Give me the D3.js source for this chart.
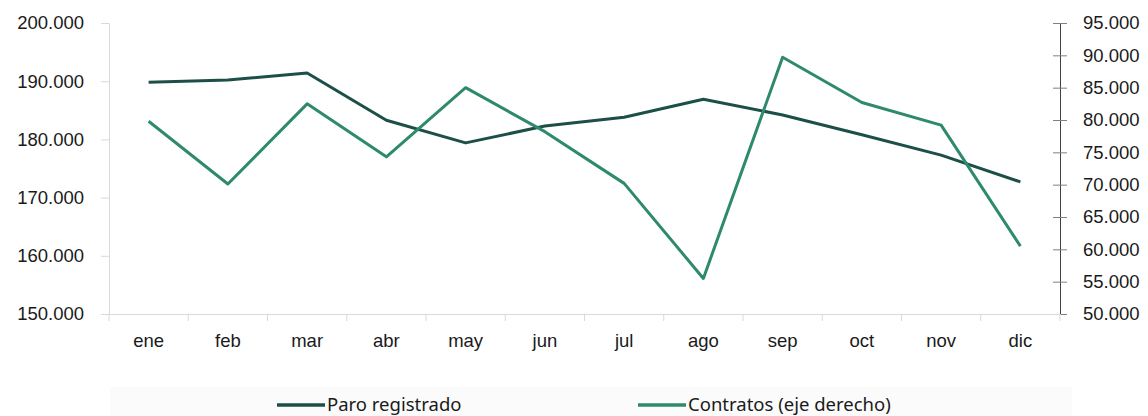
<!DOCTYPE html>
<html>
<head>
<meta charset="utf-8">
<script src="https://cdn.jsdelivr.net/npm/d3@7"></script>
<style>
  body { margin: 0; background: #fff; }
  svg { display: block; font-family: "Noto Sans", Lato, sans-serif; }
</style>
</head>
<body>
<div id="chart"></div>
<script>
// meses
const meses = ['ene', 'feb', 'mar', 'abr', 'may', 'jun', 'jul', 'ago', 'sep', 'oct', 'nov', 'dic'];
// Paro registrado (eje izquierdo)
const paro = [189800, 190200, 191400, 183300, 179400, 182300, 183800, 186900, 184200, 180800, 177300, 172700];
// Contratos (eje derecho)
const contratos = [79800, 70100, 82500, 74300, 85000, 78200, 70200, 55500, 89700, 82700, 79200, 60500];
const ticksIzq = [150000, 160000, 170000, 180000, 190000, 200000];
const ticksDer = [50000, 55000, 60000, 65000, 70000, 75000, 80000, 85000, 90000, 95000];

const width = 1148, height = 416;
const m = { left: 109, right: 1060, top: 23, bottom: 314 };
const colorParo = '#1c4f47';
const colorContratos = '#2e8a6c';
const fs = 18.5;

const fmt = d => d3.format(',')(d).replace(/,/g, '.');

const svg = d3.select('#chart').append('svg')
  .attr('width', width).attr('height', height);

const x = d3.scaleBand().domain(meses).range([m.left, m.right]);
const yL = d3.scaleLinear().domain([150000, 200000]).range([m.bottom, m.top]);
const yR = d3.scaleLinear().domain([50000, 95000]).range([m.bottom, m.top]);

// eje izquierdo
const axL = svg.append('g').attr('transform', `translate(${m.left},0)`)
  .call(d3.axisLeft(yL).tickValues(ticksIzq).tickFormat(fmt).tickSize(8).tickPadding(17));
axL.select('.domain').attr('stroke', '#d9d9d9');
axL.selectAll('.tick line').attr('stroke', '#d9d9d9');
axL.selectAll('text').attr('font-size', fs).attr('fill', '#1a1a1a');

// eje derecho
const axR = svg.append('g').attr('transform', `translate(${m.right},0)`)
  .call(d3.axisRight(yR).tickValues(ticksDer).tickFormat(fmt).tickSize(7).tickPadding(16));
axR.select('.domain').attr('stroke', '#404040');
axR.selectAll('.tick line').attr('stroke', '#808080').attr('x1', -7);
axR.selectAll('text').attr('font-size', fs).attr('fill', '#1a1a1a');

// eje x
const axX = svg.append('g').attr('transform', `translate(0,${m.bottom})`)
  .call(d3.axisBottom(x).tickSize(0).tickPadding(20));
axX.select('.domain').attr('stroke', '#d9d9d9');
axX.selectAll('text').attr('font-size', fs).attr('fill', '#1a1a1a');
axX.selectAll('.sep')
  .data(d3.range(meses.length + 1))
  .join('line')
  .attr('class', 'sep')
  .attr('x1', i => m.left + i * x.step())
  .attr('x2', i => m.left + i * x.step())
  .attr('y1', 0).attr('y2', 7)
  .attr('stroke', '#d9d9d9');

const cx = d => x(d) + x.bandwidth() / 2;

svg.append('path')
  .datum(paro)
  .attr('fill', 'none')
  .attr('stroke', colorParo)
  .attr('stroke-width', 3)
  .attr('stroke-linejoin', 'round')
  .attr('d', d3.line().x((d, i) => cx(meses[i])).y(d => yL(d)));

svg.append('path')
  .datum(contratos)
  .attr('fill', 'none')
  .attr('stroke', colorContratos)
  .attr('stroke-width', 3)
  .attr('stroke-linejoin', 'round')
  .attr('d', d3.line().x((d, i) => cx(meses[i])).y(d => yR(d)));

// leyenda
svg.append('rect')
  .attr('x', 110).attr('y', 387).attr('width', 962).attr('height', 29)
  .attr('fill', '#fbfbfb');

const leyenda = [
  { t: 'Paro registrado', c: colorParo, x: 277 },
  { t: 'Contratos (eje derecho)', c: colorContratos, x: 638 }
];
const lg = svg.selectAll('.ley').data(leyenda).join('g')
  .attr('class', 'ley')
  .attr('transform', d => `translate(${d.x},405)`);
lg.append('line').attr('x1', 0).attr('x2', 48)
  .attr('stroke', d => d.c).attr('stroke-width', 3.5);
lg.append('text').attr('x', 50).attr('y', 6)
  .attr('font-size', fs).attr('fill', '#1a1a1a')
  .text(d => d.t);
</script>
</body>
</html>
